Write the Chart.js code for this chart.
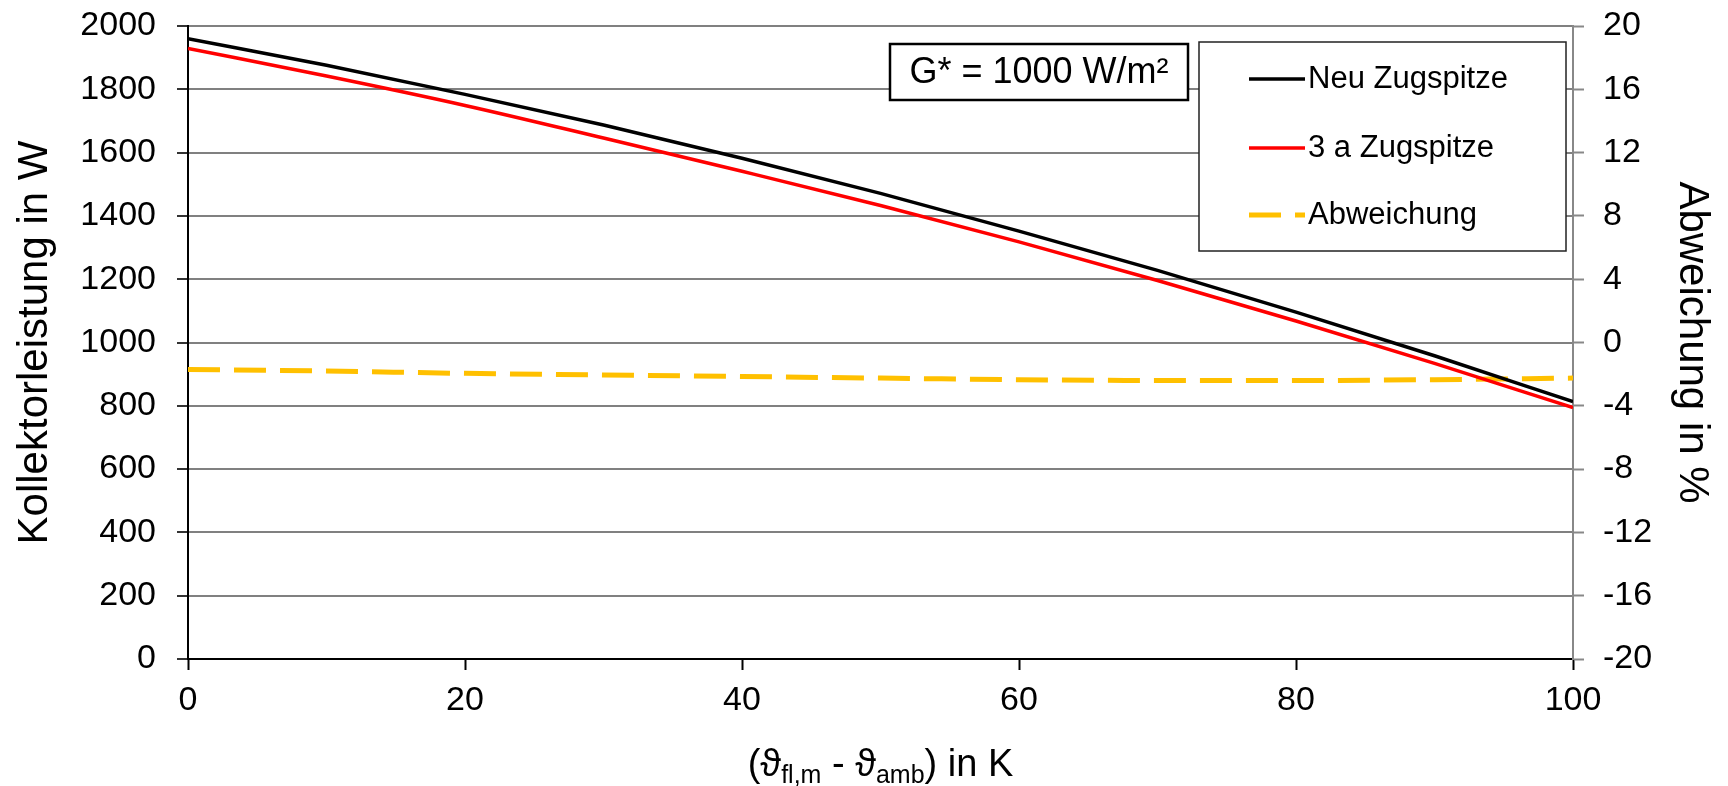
<!DOCTYPE html>
<html>
<head>
<meta charset="utf-8">
<script src="https://cdn.jsdelivr.net/npm/chart.js@4.4.0/dist/chart.umd.min.js"></script>
<style>
  html, body { margin: 0; padding: 0; background: #fff; }
  canvas { display: block; }
</style>
</head>
<body>
<canvas id="chart" width="1728" height="786"></canvas>
<script>
// Daten
const tempDiff = [0, 10, 20, 30, 40, 50, 60, 70, 80, 90, 100];
const neuZugspitze = [1960, 1876, 1784, 1687, 1582, 1471, 1352, 1228, 1096, 958, 813];
const dreiAZugspitze = [1929, 1842, 1749, 1646, 1541, 1433, 1318, 1196, 1068, 934, 794];
const abweichung = [-1.7, -1.8, -1.95, -2.05, -2.15, -2.25, -2.35, -2.4, -2.4, -2.35, -2.25];

const seriesLabels = ["Neu Zugspitze", "3 a Zugspitze", "Abweichung"];
const xTicks = [0, 20, 40, 60, 80, 100];
const powerTicks = [0, 200, 400, 600, 800, 1000, 1200, 1400, 1600, 1800, 2000];
const devTicks = [-20, -16, -12, -8, -4, 0, 4, 8, 12, 16, 20];

const yTitle = "Kollektorleistung in W";
const y2Title = "Abweichung in %";
const annotation = "G* = 1000 W/m\u00B2";
// x-Achsentitel mit Indizes
const xTitleParts = [
  { t: "(\u03D1", sub: false },
  { t: "fl,m", sub: true },
  { t: " - \u03D1", sub: false },
  { t: "amb", sub: true },
  { t: ") in K", sub: false }
];

const FONT = '"Liberation Sans", Arial, "DejaVu Sans", sans-serif';
const toPts = (ys) => tempDiff.map((x, i) => ({ x: x, y: ys[i] }));
const setTicks = (vals) => (scale) => { scale.ticks = vals.map(v => ({ value: v })); };
const plain = (v) => String(v);

// Kasten, Legende und x-Titel
const extras = {
  id: "extras",
  afterDraw(chart) {
    const ctx = chart.ctx;
    const area = chart.chartArea;
    ctx.save();

    // G* Kasten
    ctx.fillStyle = "#fff";
    ctx.fillRect(890, 44, 298, 56);
    ctx.strokeStyle = "#000";
    ctx.lineWidth = 2.5;
    ctx.strokeRect(890, 44, 298, 56);
    ctx.fillStyle = "#000";
    ctx.font = "36px " + FONT;
    ctx.textAlign = "center";
    ctx.textBaseline = "middle";
    ctx.fillText(annotation, 1039, 73);

    // Legende
    const lx = 1199, ly = 42, lw = 367, lh = 209;
    ctx.fillStyle = "#fff";
    ctx.fillRect(lx, ly, lw, lh);
    ctx.strokeStyle = "#222";
    ctx.lineWidth = 1.5;
    ctx.strokeRect(lx, ly, lw, lh);
    const rowsY = [79, 148, 215];
    chart.data.datasets.forEach((ds, i) => {
      const y = rowsY[i];
      ctx.beginPath();
      ctx.setLineDash(ds.borderDash || []);
      ctx.strokeStyle = ds.borderColor;
      ctx.lineWidth = ds.borderWidth;
      ctx.moveTo(1249, y);
      ctx.lineTo(1305, y);
      ctx.stroke();
      ctx.setLineDash([]);
      ctx.fillStyle = "#000";
      ctx.font = "31px " + FONT;
      ctx.textAlign = "left";
      ctx.textBaseline = "middle";
      ctx.fillText(ds.label, 1308, y);
    });

    // x-Achsentitel
    const mainFont = "38px " + FONT;
    const subFont = "25px " + FONT;
    let total = 0;
    xTitleParts.forEach(p => {
      ctx.font = p.sub ? subFont : mainFont;
      total += ctx.measureText(p.t).width;
    });
    let x = (area.left + area.right) / 2 - total / 2;
    ctx.textAlign = "left";
    ctx.textBaseline = "alphabetic";
    ctx.fillStyle = "#000";
    xTitleParts.forEach(p => {
      ctx.font = p.sub ? subFont : mainFont;
      ctx.fillText(p.t, x, p.sub ? 783 : 776);
      x += ctx.measureText(p.t).width;
    });
    ctx.restore();
  }
};

new Chart(document.getElementById("chart"), {
  type: "line",
  data: {
    datasets: [
      {
        label: seriesLabels[0],
        data: toPts(neuZugspitze),
        borderColor: "#000000",
        borderWidth: 3.5,
        pointRadius: 0,
        cubicInterpolationMode: "monotone",
        yAxisID: "y"
      },
      {
        label: seriesLabels[1],
        data: toPts(dreiAZugspitze),
        borderColor: "#ff0000",
        borderWidth: 3.5,
        pointRadius: 0,
        cubicInterpolationMode: "monotone",
        yAxisID: "y"
      },
      {
        label: seriesLabels[2],
        data: toPts(abweichung),
        borderColor: "#ffc000",
        borderWidth: 5,
        borderDash: [32, 14],
        pointRadius: 0,
        cubicInterpolationMode: "monotone",
        yAxisID: "y2"
      }
    ]
  },
  options: {
    responsive: false,
    animation: false,
    devicePixelRatio: 1,
    layout: { padding: { top: 26, left: 0, right: 0, bottom: 0 } },
    plugins: {
      legend: { display: false },
      tooltip: { enabled: false }
    },
    scales: {
      x: {
        type: "linear",
        min: 0,
        max: 100,
        afterBuildTicks: setTicks(xTicks),
        afterFit: (s) => { s.height = 127; s.paddingLeft = 0; s.paddingRight = 0; },
        grid: { drawOnChartArea: false, tickLength: 11, tickColor: "#000", tickWidth: 2 },
        border: { color: "#000", width: 2 },
        ticks: { color: "#000", padding: 10, maxRotation: 0, callback: plain, font: { size: 34, family: FONT } }
      },
      y: {
        position: "left",
        min: 0,
        max: 2000,
        afterBuildTicks: setTicks(powerTicks),
        afterFit: (s) => { s.width = 188; s.paddingTop = 0; s.paddingBottom = 0; },
        grid: { color: "#808080", lineWidth: 2, tickLength: 11, tickColor: "#333" },
        border: { color: "#000", width: 2 },
        ticks: { color: "#000", padding: 21, callback: plain, font: { size: 34, family: FONT } },
        title: { display: true, text: yTitle, color: "#000", padding: { top: 10, bottom: 0 }, font: { size: 42, family: FONT } }
      },
      y2: {
        position: "right",
        min: -20,
        max: 20,
        afterBuildTicks: setTicks(devTicks),
        afterFit: (s) => { s.width = 155; s.paddingTop = 0; s.paddingBottom = 0; },
        grid: { drawOnChartArea: false, tickLength: 11, tickColor: "#888", tickWidth: 2 },
        border: { color: "#888", width: 2 },
        ticks: { color: "#000", padding: 19, callback: plain, font: { size: 34, family: FONT } },
        title: { display: true, text: y2Title, color: "#000", padding: { top: 11, bottom: 0 }, font: { size: 42, family: FONT } }
      }
    }
  },
  plugins: [extras]
});
</script>
</body>
</html>
